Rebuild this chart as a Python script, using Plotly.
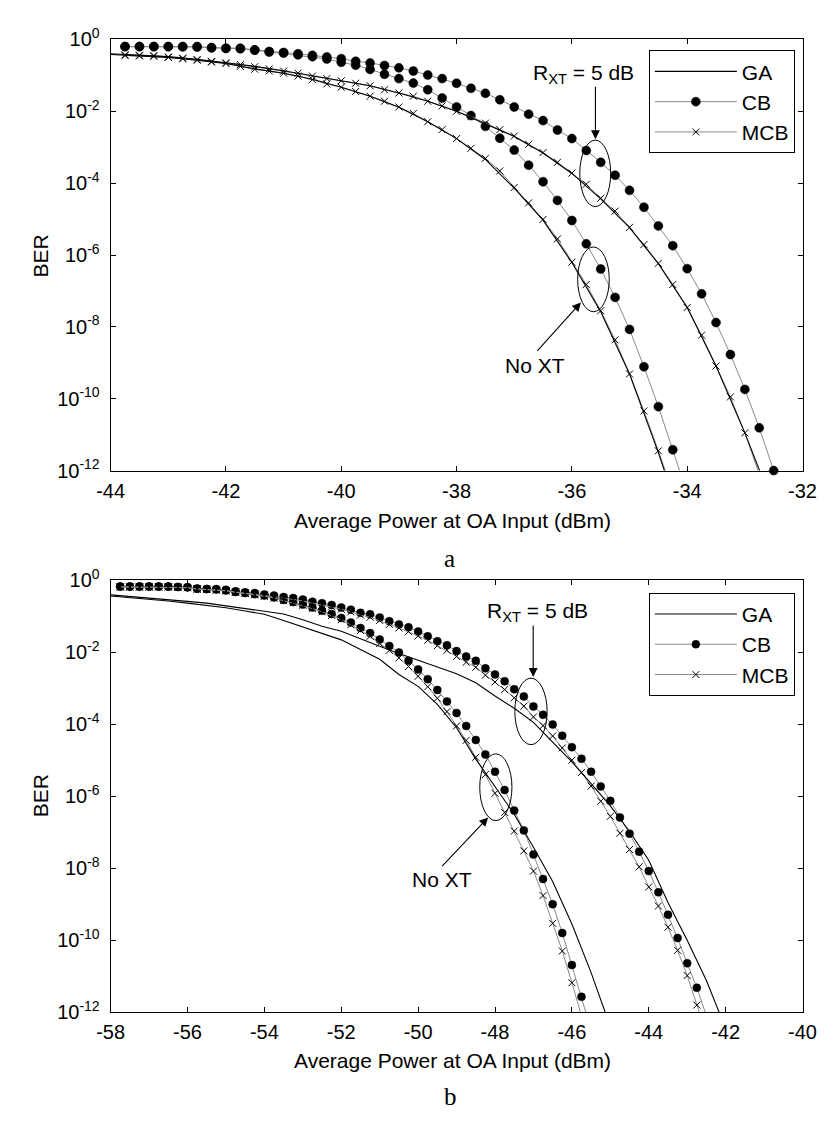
import plotly.graph_objects as go

# ---------------- DATA (log10 BER values) ----------------
# Panel a
a_cb_rxt_p = [-43.75, -43.5, -43.25, -43.0, -42.75, -42.5, -42.25, -42.0, -41.75, -41.5, -41.25, -41.0,
              -40.75, -40.5, -40.25, -40.0, -39.75, -39.5, -39.25, -39.0, -38.75, -38.5, -38.25, -38.0,
              -37.75, -37.5, -37.25, -37.0, -36.75, -36.5, -36.25, -36.0, -35.75, -35.5, -35.25, -35.0,
              -34.75, -34.5, -34.25, -34.0, -33.75, -33.5, -33.25, -33.0, -32.75, -32.5]
a_cb_rxt_log = [-0.20, -0.20, -0.20, -0.20, -0.20, -0.20, -0.227, -0.245, -0.245, -0.29, -0.336, -0.363,
                -0.40, -0.444, -0.49, -0.535, -0.608, -0.653, -0.726, -0.79, -0.88, -0.99, -1.09, -1.22,
                -1.36, -1.50, -1.68, -1.88, -2.08, -2.26, -2.52, -2.76, -3.09, -3.42, -3.78, -4.20,
                -4.67, -5.19, -5.74, -6.38, -7.08, -7.88, -8.77, -9.74, -10.81, -12.0]

a_cb_noxt_p = [-43.75, -43.5, -43.25, -43.0, -42.75, -42.5, -42.25, -42.0, -41.75, -41.5, -41.25, -41.0,
               -40.75, -40.5, -40.25, -40.0, -39.75, -39.5, -39.25, -39.0, -38.75, -38.5, -38.25, -38.0,
               -37.75, -37.5, -37.25, -37.0, -36.75, -36.5, -36.25, -36.0, -35.75, -35.5, -35.25, -35.0,
               -34.75, -34.5, -34.25, -34.0]
a_cb_noxt_log = [-0.20, -0.20, -0.20, -0.20, -0.205, -0.21, -0.235, -0.25, -0.26, -0.30, -0.35, -0.38,
                 -0.43, -0.48, -0.544, -0.635, -0.717, -0.835, -0.97, -1.09, -1.215, -1.40, -1.63, -1.88,
                 -2.12, -2.42, -2.75, -3.08, -3.50, -3.96, -4.48, -5.04, -5.69, -6.39, -7.18, -8.07,
                 -9.11, -10.22, -11.42, -12.65]

a_mcb_rxt_p = [-43.75, -43.5, -43.25, -43.0, -42.75, -42.5, -42.25, -42.0, -41.75, -41.5, -41.25, -41.0,
               -40.75, -40.5, -40.25, -40.0, -39.75, -39.5, -39.25, -39.0, -38.75, -38.5, -38.25, -38.0,
               -37.75, -37.5, -37.25, -37.0, -36.75, -36.5, -36.25, -36.0, -35.75, -35.5, -35.25, -35.0,
               -34.75, -34.5, -34.25, -34.0, -33.75, -33.5, -33.25, -33.0, -32.75]
a_mcb_rxt_log = [-0.43, -0.44, -0.45, -0.49, -0.52, -0.56, -0.61, -0.65, -0.70, -0.76, -0.82, -0.88,
                 -0.94, -1.02, -1.09, -1.15, -1.22, -1.29, -1.40, -1.49, -1.58, -1.72, -1.85, -2.00,
                 -2.15, -2.33, -2.51, -2.69, -2.92, -3.15, -3.42, -3.72, -4.03, -4.42, -4.78, -5.23,
                 -5.71, -6.23, -6.82, -7.46, -8.23, -9.09, -9.95, -10.95, -12.1]

a_mcb_noxt_p = [-43.75, -43.5, -43.25, -43.0, -42.75, -42.5, -42.25, -42.0, -41.75, -41.5, -41.25, -41.0,
                -40.75, -40.5, -40.25, -40.0, -39.75, -39.5, -39.25, -39.0, -38.75, -38.5, -38.25, -38.0,
                -37.75, -37.5, -37.25, -37.0, -36.75, -36.5, -36.25, -36.0, -35.75, -35.5, -35.25, -35.0,
                -34.75, -34.5, -34.25]
a_mcb_noxt_log = [-0.45, -0.46, -0.47, -0.50, -0.54, -0.58, -0.63, -0.67, -0.75, -0.83, -0.88, -0.94,
                  -1.02, -1.12, -1.24, -1.33, -1.45, -1.58, -1.72, -1.88, -2.06, -2.29, -2.51, -2.76,
                  -3.03, -3.31, -3.66, -4.12, -4.55, -5.01, -5.55, -6.20, -6.82, -7.55, -8.36, -9.31,
                  -10.34, -11.45, -12.6]

a_ga_rxt_p = [-44.0, -43.5, -43.0, -42.5, -42.0, -41.5, -41.0, -40.5, -40.0, -39.5, -39.0, -38.5,
              -38.0, -37.5, -37.0, -36.5, -36.0, -35.5, -35.0, -34.5, -34.0, -33.5, -33.0, -32.5]
a_ga_rxt_log = [-0.40, -0.44, -0.48, -0.55, -0.64, -0.75, -0.87, -1.01, -1.14, -1.29, -1.49, -1.72,
                -2.00, -2.34, -2.70, -3.16, -3.73, -4.44, -5.24, -6.24, -7.46, -9.09, -10.95, -13.0]

a_ga_noxt_p = [-44.0, -43.5, -43.0, -42.5, -42.0, -41.5, -41.0, -40.5, -40.0, -39.5, -39.0, -38.5,
               -38.0, -37.5, -37.0, -36.5, -36.0, -35.5, -35.0, -34.5, -34.0]
a_ga_noxt_log = [-0.42, -0.46, -0.50, -0.58, -0.67, -0.82, -0.94, -1.11, -1.33, -1.58, -1.89, -2.29,
                 -2.76, -3.34, -4.14, -5.03, -6.21, -7.58, -9.31, -11.5, -13.9]

# Panel b
b_cb_rxt_p = [-57.75, -57.5, -57.25, -57.0, -56.75, -56.5, -56.25, -56.0, -55.75, -55.5, -55.25, -55.0,
              -54.75, -54.5, -54.25, -54.0, -53.75, -53.5, -53.25, -53.0, -52.75, -52.5, -52.25, -52.0,
              -51.75, -51.5, -51.25, -51.0, -50.75, -50.5, -50.25, -50.0, -49.75, -49.5, -49.25, -49.0,
              -48.75, -48.5, -48.25, -48.0, -47.75, -47.5, -47.25, -47.0, -46.75, -46.5, -46.25, -46.0,
              -45.75, -45.5, -45.25, -45.0, -44.75, -44.5, -44.25, -44.0, -43.75, -43.5, -43.25, -43.0,
              -42.75, -42.5]
b_cb_rxt_log = [-0.18, -0.18, -0.18, -0.18, -0.18, -0.18, -0.19, -0.20, -0.235, -0.245, -0.25, -0.27,
                -0.31, -0.34, -0.36, -0.40, -0.43, -0.47, -0.50, -0.54, -0.60, -0.64, -0.69, -0.76,
                -0.82, -0.91, -0.95, -1.04, -1.14, -1.23, -1.31, -1.43, -1.56, -1.70, -1.81, -1.97,
                -2.12, -2.24, -2.45, -2.62, -2.81, -3.03, -3.23, -3.51, -3.74, -4.01, -4.32, -4.64,
                -4.96, -5.32, -5.73, -6.13, -6.59, -7.04, -7.54, -8.08, -8.67, -9.29, -9.94, -10.64,
                -11.32, -12.1]

b_mcb_rxt_p = list(b_cb_rxt_p)
b_mcb_rxt_log = [-0.19, -0.19, -0.19, -0.19, -0.19, -0.19, -0.20, -0.21, -0.245, -0.255, -0.26, -0.29,
                 -0.33, -0.36, -0.38, -0.42, -0.46, -0.50, -0.53, -0.58, -0.64, -0.69, -0.74, -0.81,
                 -0.88, -0.97, -1.03, -1.12, -1.23, -1.33, -1.43, -1.55, -1.67, -1.82, -1.95, -2.12,
                 -2.28, -2.42, -2.64, -2.83, -3.04, -3.27, -3.50, -3.80, -4.04, -4.33, -4.66, -5.00,
                 -5.34, -5.72, -6.14, -6.56, -7.03, -7.48, -7.96, -8.52, -9.05, -9.64, -10.28, -10.98,
                 -11.8, -12.6]

b_cb_noxt_p = [-57.75, -57.5, -57.25, -57.0, -56.75, -56.5, -56.25, -56.0, -55.75, -55.5, -55.25, -55.0,
               -54.75, -54.5, -54.25, -54.0, -53.75, -53.5, -53.25, -53.0, -52.75, -52.5, -52.25, -52.0,
               -51.75, -51.5, -51.25, -51.0, -50.75, -50.5, -50.25, -50.0, -49.75, -49.5, -49.25, -49.0,
               -48.75, -48.5, -48.25, -48.0, -47.75, -47.5, -47.25, -47.0, -46.75, -46.5, -46.25, -46.0,
               -45.75, -45.5]
b_cb_noxt_log = [-0.18, -0.18, -0.18, -0.18, -0.18, -0.18, -0.19, -0.20, -0.24, -0.25, -0.26, -0.29,
                 -0.33, -0.36, -0.39, -0.43, -0.48, -0.55, -0.61, -0.68, -0.76, -0.85, -0.94, -1.05,
                 -1.18, -1.33, -1.47, -1.65, -1.83, -2.01, -2.24, -2.48, -2.75, -3.05, -3.37, -3.69,
                 -4.05, -4.44, -4.84, -5.32, -5.83, -6.40, -6.95, -7.62, -8.30, -9.00, -9.80, -10.69,
                 -11.57, -12.5]

b_mcb_noxt_p = [-57.75, -57.5, -57.25, -57.0, -56.75, -56.5, -56.25, -56.0, -55.75, -55.5, -55.25, -55.0,
                -54.75, -54.5, -54.25, -54.0, -53.75, -53.5, -53.25, -53.0, -52.75, -52.5, -52.25, -52.0,
                -51.75, -51.5, -51.25, -51.0, -50.75, -50.5, -50.25, -50.0, -49.75, -49.5, -49.25, -49.0,
                -48.75, -48.5, -48.25, -48.0, -47.75, -47.5, -47.25, -47.0, -46.75, -46.5, -46.25, -46.0,
                -45.75]
b_mcb_noxt_log = [-0.19, -0.19, -0.19, -0.19, -0.19, -0.19, -0.20, -0.21, -0.25, -0.26, -0.28, -0.30,
                  -0.34, -0.37, -0.41, -0.45, -0.50, -0.57, -0.63, -0.70, -0.79, -0.88, -0.98, -1.10,
                  -1.24, -1.40, -1.56, -1.76, -1.95, -2.16, -2.40, -2.67, -2.96, -3.28, -3.65, -4.05,
                  -4.45, -4.92, -5.40, -5.92, -6.45, -6.97, -7.52, -8.08, -8.76, -9.53, -10.30, -11.18,
                  -12.1]

b_ga_noxt_p = [-58.0, -57.5, -57.0, -56.5, -56.0, -55.5, -55.0, -54.5, -54.0, -53.5, -53.0, -52.5,
               -52.0, -51.5, -51.0, -50.5, -50.0, -49.5, -49.0, -48.5, -48.0, -47.5, -47.0, -46.5,
               -46.0, -45.5, -45.0]
b_ga_noxt_log = [-0.44, -0.48, -0.52, -0.58, -0.64, -0.70, -0.77, -0.86, -0.95, -1.12, -1.30, -1.48,
                 -1.66, -1.93, -2.20, -2.62, -2.95, -3.45, -4.10, -4.97, -5.73, -6.50, -7.42, -8.37,
                 -9.55, -10.9, -12.4]

b_ga_rxt_p = [-58.0, -57.5, -57.0, -56.5, -56.0, -55.5, -55.0, -54.5, -54.0, -53.5, -53.0, -52.5,
              -52.0, -51.5, -51.0, -50.5, -50.0, -49.5, -49.0, -48.5, -48.0, -47.5, -47.0, -46.5,
              -46.0, -45.5, -45.0, -44.5, -44.0, -43.5, -43.0, -42.5, -42.0]
b_ga_rxt_log = [-0.41, -0.45, -0.49, -0.54, -0.59, -0.64, -0.71, -0.78, -0.86, -0.94, -1.10, -1.28,
                -1.42, -1.64, -1.84, -2.04, -2.22, -2.40, -2.60, -2.85, -3.22, -3.56, -3.95, -4.50,
                -5.05, -5.65, -6.27, -6.98, -7.78, -8.95, -10.0, -11.12, -12.45]

# Axis ticks
a_xticks = [-44, -42, -40, -38, -36, -34, -32]
b_xticks = [-58, -56, -54, -52, -50, -48, -46, -44, -42, -40]
y_exponents = [0, -2, -4, -6, -8, -10, -12]
legend_names = ["GA", "CB", "MCB"]

# ---------------- FIGURE ----------------
W, H = 831, 1122
FONT = "Liberation Sans, Arial, sans-serif"
GRAY = "#8a8a8a"
TICK = 20
TXT = 21


def X(px):
    return px / W


def Y(py):
    return 1 - py / H


def ber(vals):
    return [10 ** v for v in vals]


def sizes(vals, s):
    return [s if v >= -12.0 else 0 for v in vals]


fig = go.Figure()


def add_panel(xa, ya, leg, cb, mcb, ga, dot):
    for i, (p, v) in enumerate(cb):
        fig.add_trace(go.Scatter(
            x=p, y=ber(v), xaxis=xa, yaxis=ya, mode="lines+markers", name=legend_names[1],
            legend=leg, legendgroup=leg + "cb", legendrank=2, showlegend=(i == 0),
            line=dict(color=GRAY, width=1),
            marker=dict(symbol="circle", color="black", size=sizes(v, dot), opacity=1,
                        line=dict(width=0.5, color="black")),
            cliponaxis=False))
    for i, (p, v) in enumerate(mcb):
        fig.add_trace(go.Scatter(
            x=p, y=ber(v), xaxis=xa, yaxis=ya, mode="lines+markers", name=legend_names[2],
            legend=leg, legendgroup=leg + "mcb", legendrank=3, showlegend=(i == 0),
            line=dict(color=GRAY, width=1),
            marker=dict(symbol="x-thin", color="black", size=sizes(v, 7), opacity=1,
                        line=dict(width=1, color="black")),
            cliponaxis=False))
    for i, (p, v) in enumerate(ga):
        fig.add_trace(go.Scatter(
            x=p, y=ber(v), xaxis=xa, yaxis=ya, mode="lines", name=legend_names[0],
            legend=leg, legendgroup=leg + "ga", legendrank=1, showlegend=(i == 0),
            line=dict(color="black", width=1.1)))


add_panel("x", "y", "legend",
          [(a_cb_rxt_p, a_cb_rxt_log), (a_cb_noxt_p, a_cb_noxt_log)],
          [(a_mcb_rxt_p, a_mcb_rxt_log), (a_mcb_noxt_p, a_mcb_noxt_log)],
          [(a_ga_rxt_p, a_ga_rxt_log), (a_ga_noxt_p, a_ga_noxt_log)], 9)
add_panel("x2", "y2", "legend2",
          [(b_cb_rxt_p, b_cb_rxt_log), (b_cb_noxt_p, b_cb_noxt_log)],
          [(b_mcb_rxt_p, b_mcb_rxt_log), (b_mcb_noxt_p, b_mcb_noxt_log)],
          [(b_ga_rxt_p, b_ga_rxt_log), (b_ga_noxt_p, b_ga_noxt_log)], 8)

ytickvals = [10 ** e for e in y_exponents]
yticktext = ["10<sup>%d</sup>" % e for e in y_exponents]

axis_common = dict(showline=True, linecolor="black", linewidth=1, mirror="ticks",
                   ticks="inside", ticklen=5, tickcolor="black", showgrid=False, zeroline=False,
                   tickfont=dict(family=FONT, size=TICK, color="black"))

xdom = [X(100), X(816)]
leg_common = dict(xanchor="left", yanchor="top", bgcolor="white", bordercolor="black",
                  borderwidth=1, font=dict(family=FONT, size=TXT), itemwidth=82,
                  tracegroupgap=4, traceorder="normal")
fig.update_layout(
    width=W, height=H, margin=dict(l=0, r=0, t=0, b=0),
    paper_bgcolor="white", plot_bgcolor="white",
    font=dict(family=FONT, color="black"),
    xaxis=dict(domain=xdom, anchor="y", range=[-44, -32], tickvals=a_xticks,
               ticktext=[str(t) for t in a_xticks], ticklabelstandoff=2, **axis_common),
    yaxis=dict(domain=[Y(467), Y(26)], anchor="x", type="log", range=[-12, 0],
               tickvals=ytickvals, ticktext=yticktext, ticklabelstandoff=6, **axis_common),
    xaxis2=dict(domain=xdom, anchor="y2", range=[-58, -40], tickvals=b_xticks,
                ticktext=[str(t) for t in b_xticks], ticklabelstandoff=2, **axis_common),
    yaxis2=dict(domain=[Y(1021), Y(579)], anchor="x2", type="log", range=[-12, 0],
                tickvals=ytickvals, ticktext=yticktext, ticklabelstandoff=6, **axis_common),
    legend=dict(x=X(657), y=Y(37), **leg_common),
    legend2=dict(x=X(657), y=Y(592), **leg_common),
    showlegend=True,
)

annots = []


def text(px, py, s, size=TXT, fam=FONT, angle=0):
    annots.append(dict(x=X(px), y=Y(py), xref="paper", yref="paper", text=s, showarrow=False,
                       xanchor="center", yanchor="middle", textangle=angle,
                       font=dict(family=fam, size=size, color="black")))


def arrow(tx, ty, hx, hy):
    annots.append(dict(x=X(hx), y=Y(hy), xref="paper", yref="paper", text="", showarrow=True,
                       ax=tx - hx, ay=ty - hy, axref="pixel", ayref="pixel",
                       arrowhead=2, arrowsize=1.6, arrowwidth=1.1, arrowcolor="black"))


# axis titles
text(27, 248, "BER", angle=-90)
text(27, 800, "BER", angle=-90)
text(454, 518, "Average Power at OA Input (dBm)")
text(454, 1070, "Average Power at OA Input (dBm)")
# captions
text(451, 557, "a", size=25, fam="Liberation Serif, Times New Roman, serif")
text(452, 1107, "b", size=25, fam="Liberation Serif, Times New Roman, serif")
# panel a notes
text(589, 61, "R<sub>XT</sub> = 5 dB")
arrow(601.7, 74, 601.7, 128)
text(539, 360, "No XT")
arrow(541.7, 345, 586.7, 295)
# panel b notes
text(542, 612, "R<sub>XT</sub> = 5 dB")
arrow(537.3, 625, 537.3, 678)
text(443, 885, "No XT")
arrow(443.3, 872, 490.7, 821.7)

shapes = []


def ellipse(x0, y0, x1, y1):
    shapes.append(dict(type="circle", xref="paper", yref="paper", x0=X(x0), x1=X(x1),
                       y0=Y(y1), y1=Y(y0), line=dict(color="black", width=1)))


ellipse(585.5, 129, 617.5, 197)
ellipse(583.3, 238.3, 616, 304.5)
ellipse(518.3, 679.3, 551.7, 747.3)
ellipse(482, 756.7, 515.3, 825)

fig.update_layout(annotations=annots, shapes=shapes)
fig.write_html("out.html", config={"displayModeBar": False},
               post_script="document.body.style.margin='0px';document.body.style.padding='0px';"
                           "document.body.style.overflow='hidden';")
